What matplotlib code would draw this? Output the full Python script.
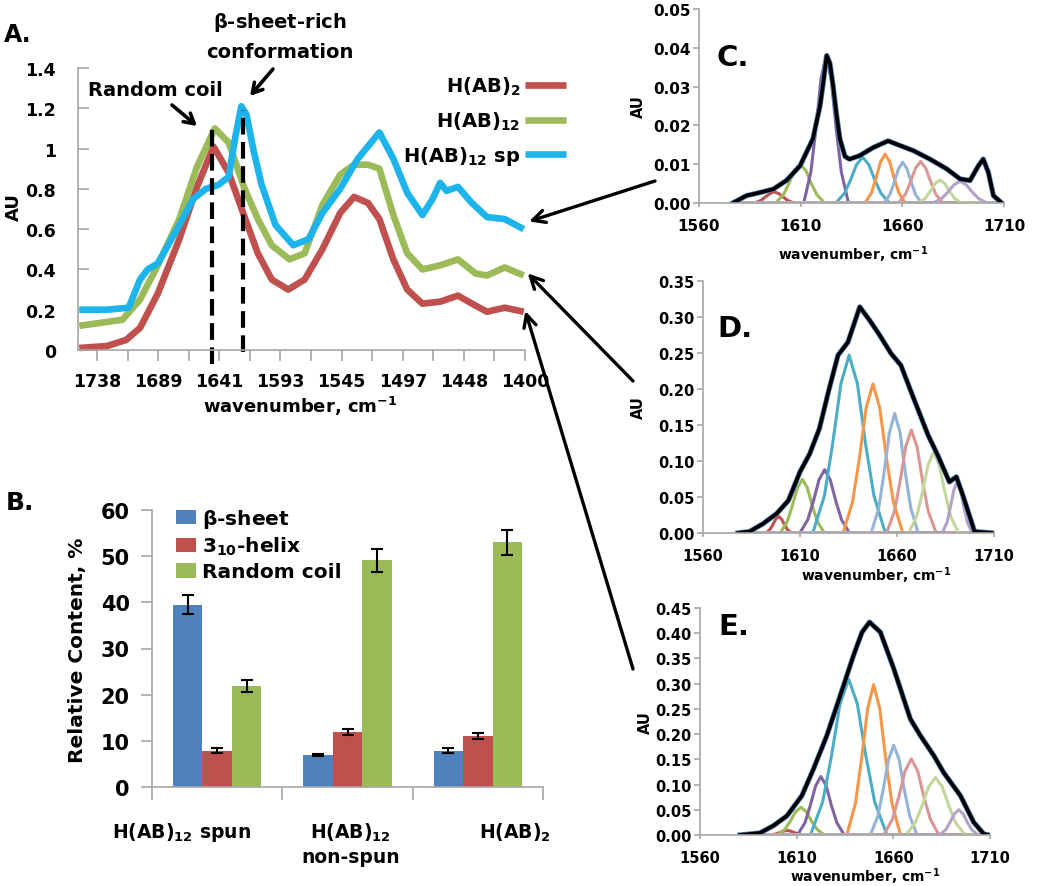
import numpy as np
import matplotlib.pyplot as plt
from matplotlib.ticker import FormatStrFormatter
from matplotlib.transforms import ScaledTranslation

plt.rcParams['font.family'] = 'DejaVu Sans'
plt.rcParams['font.weight'] = 'bold'
plt.rcParams['mathtext.fontset'] = 'dejavusans'

# ---------------- data ----------------
# A. FTIR spectra (wavenumber, AU)
red_wn = [1752, 1730, 1715, 1704, 1690, 1673, 1659, 1646, 1634, 1622, 1611, 1600, 1587, 1574,
          1560, 1546, 1535, 1524, 1515, 1504, 1493, 1481, 1467, 1453, 1439, 1430, 1416, 1401]
red_au = [0.01, 0.02, 0.05, 0.11, 0.28, 0.55, 0.81, 1.01, 0.88, 0.67, 0.48, 0.35, 0.30, 0.35,
          0.50, 0.68, 0.76, 0.73, 0.65, 0.45, 0.30, 0.23, 0.24, 0.27, 0.22, 0.19, 0.21, 0.19]
green_wn = [1752, 1718, 1704, 1690, 1673, 1659, 1645, 1634, 1622, 1611, 1600, 1586, 1574, 1560,
            1546, 1535, 1524, 1515, 1504, 1493, 1481, 1467, 1453, 1439, 1430, 1416, 1401]
green_au = [0.12, 0.15, 0.25, 0.42, 0.65, 0.91, 1.10, 1.03, 0.81, 0.65, 0.52, 0.45, 0.48, 0.72,
            0.87, 0.92, 0.92, 0.90, 0.67, 0.48, 0.40, 0.42, 0.45, 0.38, 0.37, 0.41, 0.37]
blue_wn = [1752, 1730, 1713, 1704, 1698, 1690, 1673, 1662, 1652, 1642, 1634, 1629, 1624, 1620,
           1614, 1608, 1597, 1583, 1571, 1560, 1546, 1532, 1515, 1504, 1493, 1481, 1473, 1467,
           1462, 1453, 1442, 1430, 1416, 1401]
blue_au = [0.20, 0.20, 0.21, 0.35, 0.40, 0.43, 0.62, 0.75, 0.80, 0.82, 0.86, 1.05, 1.21, 1.17,
           0.98, 0.82, 0.62, 0.52, 0.55, 0.68, 0.80, 0.95, 1.08, 0.95, 0.78, 0.67, 0.75, 0.83,
           0.79, 0.81, 0.73, 0.66, 0.65, 0.60]
spectra_labels = [r'H(AB)$_\mathbf{2}$', r'H(AB)$_\mathbf{12}$', r'H(AB)$_\mathbf{12}$ sp']
a_tick_labels = ['1738', '1689', '1641', '1593', '1545', '1497', '1448', '1400']
dash_wn = [1647, 1623]
dash_top = [1.12, 1.19]
dash_bottom = [-0.07, -0.01]

# B. secondary structure content, %
groups = [r'H(AB)$_\mathbf{12}$ spun', 'H(AB)$_\\mathbf{12}$\nnon-spun', r'H(AB)$_\mathbf{2}$']
struct_labels = [r'$\mathbf{\beta}$-sheet', r'3$_\mathbf{10}$-helix', 'Random coil']
beta_sheet = [39.5, 7.0, 7.9]
helix_310 = [7.9, 11.9, 11.0]
random_coil = [21.8, 49.1, 53.0]
beta_err = [2.1, 0.25, 0.5]
helix_err = [0.5, 0.7, 0.7]
coil_err = [1.3, 2.5, 2.7]

# C-E. amide I band fitting: measured spectrum and fitted bands
c_wn = [1576.6, 1583.4, 1590, 1596.6, 1603, 1609.7, 1616, 1619.5, 1621.1, 1622.8, 1624.4, 1626,
        1627.7, 1629.3, 1631.8, 1634, 1639, 1645.7, 1653, 1658.9, 1665.4, 1673.6, 1681.8,
        1688.4, 1693.3, 1697.4, 1699.8, 1702.3, 1704.8, 1708.9]
c_au = [0, 0.0019, 0.0027, 0.0036, 0.0058, 0.0096, 0.0165, 0.025, 0.031, 0.038, 0.036, 0.030,
        0.0225, 0.0165, 0.012, 0.0113, 0.0122, 0.0143, 0.016, 0.0148, 0.0135, 0.0113, 0.0088,
        0.0062, 0.0058, 0.0096, 0.0113, 0.0079, 0.0019, 0]
c_bands = [
    ([1587.1, 1590.3, 1592.5, 1594.8, 1597.0, 1599.3, 1601.5, 1603.8, 1606.9],
     [0, .0006, .0015, .0024, .0029, .0024, .0015, .0006, 0]),
    ([1597.6, 1601.5, 1604.2, 1607.0, 1609.7, 1612.5, 1615.2, 1618.0, 1621.8],
     [0, .0021, .005, .0084, .010, .0084, .005, .0021, 0]),
    ([1611.5, 1615.0, 1617.5, 1620.0, 1622.5, 1625.0, 1627.5, 1630.0, 1633.5],
     [0, .008, .019, .032, .038, .032, .019, .008, 0]),
    ([1627.3, 1631.5, 1634.5, 1637.5, 1640.5, 1643.5, 1646.5, 1649.5, 1653.7],
     [0, .0025, .0059, .0099, .0118, .0099, .0059, .0025, 0]),
    ([1641.6, 1644.8, 1647.0, 1649.3, 1651.5, 1653.8, 1656.0, 1658.3, 1661.4],
     [0, .0026, .0063, .0106, .0126, .0106, .0063, .0026, 0]),
    ([1651.0, 1653.9, 1656.0, 1658.1, 1660.2, 1662.3, 1664.4, 1666.5, 1669.4],
     [0, .0022, .0053, .0088, .0105, .0088, .0053, .0022, 0]),
    ([1658.0, 1661.5, 1664.0, 1666.5, 1669.0, 1671.5, 1674.0, 1676.5, 1680.0],
     [0, .0022, .0054, .009, .0107, .009, .0054, .0022, 0]),
    ([1667.9, 1671.3, 1673.7, 1676.1, 1678.5, 1680.9, 1683.3, 1685.7, 1689.1],
     [0, .0012, .003, .005, .0059, .005, .003, .0012, 0]),
    ([1675.2, 1679.4, 1682.4, 1685.4, 1688.4, 1691.4, 1694.4, 1697.4, 1701.6],
     [0, .0012, .0028, .0047, .0056, .0047, .0028, .0012, 0]),
]

d_wn = [1578, 1584, 1591, 1598, 1604, 1610, 1615, 1620, 1625, 1629.6, 1634.7, 1640.8, 1646,
        1651, 1657, 1662, 1668, 1676, 1681, 1687, 1690.6, 1694, 1700, 1709.5]
d_au = [0, 0.002, 0.013, 0.027, 0.045, 0.085, 0.11, 0.145, 0.20, 0.247, 0.265, 0.314, 0.295,
        0.275, 0.249, 0.233, 0.191, 0.136, 0.108, 0.071, 0.078, 0.052, 0.002, 0]
d_bands = [
    ([1592.4, 1594.5, 1596.0, 1597.5, 1599.0, 1600.5, 1602.0, 1603.5, 1605.6],
     [0, .0048, .0115, .0193, .023, .0193, .0115, .0048, 0]),
    ([1599.8, 1603.4, 1606.0, 1608.6, 1611.2, 1613.8, 1616.4, 1619.0, 1622.6],
     [0, .0156, .0373, .0626, .0745, .0626, .0373, .0156, 0]),
    ([1609.9, 1614.0, 1616.9, 1619.8, 1622.7, 1625.6, 1628.5, 1631.4, 1635.5],
     [0, .0185, .044, .0739, .088, .0739, .044, .0185, 0]),
    ([1616.6, 1622.6, 1626.8, 1631.1, 1635.3, 1639.6, 1643.8, 1648.1, 1654.0],
     [0, .0519, .1235, .2075, .247, .2075, .1235, .0519, 0]),
    ([1632.2, 1637.1, 1640.6, 1644.1, 1647.6, 1651.1, 1654.6, 1658.1, 1663.0],
     [0, .0435, .1035, .1739, .207, .1739, .1035, .0435, 0]),
    ([1646.7, 1650.6, 1653.3, 1656.1, 1658.8, 1661.6, 1664.3, 1667.1, 1670.9],
     [0, .0349, .083, .1394, .166, .1394, .083, .0349, 0]),
    ([1654.6, 1658.7, 1661.6, 1664.5, 1667.4, 1670.3, 1673.2, 1676.1, 1680.2],
     [0, .030, .0715, .1201, .143, .1201, .0715, .030, 0]),
    ([1666.1, 1670.2, 1673.1, 1676.0, 1678.9, 1681.8, 1684.7, 1687.6, 1691.7],
     [0, .0236, .0563, .0945, .1125, .0945, .0563, .0236, 0]),
    ([1683.3, 1685.8, 1687.5, 1689.3, 1691.0, 1692.8, 1694.5, 1696.3, 1698.7],
     [0, .0149, .0355, .0596, .071, .0596, .0355, .0149, 0]),
]

e_wn = [1580.7, 1591, 1598, 1605, 1612.7, 1618.7, 1625.6, 1632.5, 1639.4, 1643.8, 1647.7,
        1653.3, 1660.2, 1668.8, 1674, 1681, 1686, 1694.7, 1701.6, 1706.8, 1709.4]
e_au = [0, 0.004, 0.0185, 0.038, 0.078, 0.131, 0.197, 0.276, 0.356, 0.402, 0.422, 0.402, 0.33,
        0.23, 0.197, 0.157, 0.124, 0.078, 0.025, 0.002, 0]
e_bands = [
    ([1596.2, 1599.0, 1601.0, 1603.0, 1605.0, 1607.0, 1609.0, 1611.0, 1613.8],
     [0, .0019, .0045, .0076, .009, .0076, .0045, .0019, 0]),
    ([1600.1, 1604.0, 1606.7, 1609.5, 1612.2, 1615.0, 1617.7, 1620.5, 1624.3],
     [0, .0116, .0275, .0462, .055, .0462, .0275, .0116, 0]),
    ([1610.4, 1614.3, 1617.0, 1619.8, 1622.5, 1625.3, 1628.0, 1630.8, 1634.6],
     [0, .0244, .058, .0974, .116, .0974, .058, .0244, 0]),
    ([1617.1, 1623.4, 1627.9, 1632.4, 1636.9, 1641.4, 1645.9, 1650.4, 1656.7],
     [0, .0649, .1545, .2596, .309, .2596, .1545, .0649, 0]),
    ([1635.9, 1640.4, 1643.5, 1646.7, 1649.8, 1653.0, 1656.1, 1659.3, 1663.7],
     [0, .0626, .149, .2503, .298, .2503, .149, .0626, 0]),
    ([1648.1, 1652.0, 1654.7, 1657.5, 1660.2, 1663.0, 1665.7, 1668.5, 1672.3],
     [0, .0374, .089, .1495, .178, .1495, .089, .0374, 0]),
    ([1655.0, 1659.6, 1662.8, 1666.1, 1669.3, 1672.6, 1675.8, 1679.1, 1683.6],
     [0, .0317, .0755, .1268, .151, .1268, .0755, .0317, 0]),
    ([1666.4, 1671.3, 1674.8, 1678.3, 1681.8, 1685.3, 1688.8, 1692.3, 1697.2],
     [0, .0239, .057, .0958, .114, .0958, .057, .0239, 0]),
    ([1683.9, 1687.1, 1689.3, 1691.6, 1693.8, 1696.1, 1698.3, 1700.6, 1703.7],
     [0, .0105, .025, .042, .05, .042, .025, .0105, 0]),
]

# ---------------- layout helpers ----------------
W, H = 1050, 887
fig = plt.figure(figsize=(W / 100, H / 100), dpi=100)
GRAY = '#a6a6a6'
RED, GREEN, CYAN, BLUE = '#C0504D', '#9BBB59', '#1DB4EC', '#4F81BD'
band_colors = ['#C0504D', '#9BBB59', '#8064A2', '#4BACC6', '#F79646',
               '#95B3D7', '#D99694', '#C3D69B', '#B3A2C7']


def box(l, t, r, b):
    return [l / W, 1 - b / H, (r - l) / W, (b - t) / H]


def fp(x, y):
    return (x / W, 1 - y / H)


def style(ax):
    for s in ['top', 'right']:
        ax.spines[s].set_visible(False)
    for s in ['left', 'bottom']:
        ax.spines[s].set_color(GRAY)
        ax.spines[s].set_linewidth(1.2)
    ax.tick_params(which='both', colors=GRAY, labelcolor='black', width=1.2)
    ax.patch.set_alpha(0)


def ftext(x, y, s, size, **kw):
    fig.text(*fp(x, y), s, fontsize=size, fontweight='bold', ha=kw.pop('ha', 'center'),
             va=kw.pop('va', 'center'), **kw)


# ---------------- A ----------------
axA = fig.add_axes(box(78, 69, 525, 351))
style(axA)
for wn, au, col, lab in zip([red_wn, green_wn, blue_wn], [red_au, green_au, blue_au],
                            [RED, GREEN, CYAN], spectra_labels):
    axA.plot(wn, au, color=col, lw=4.8, label=lab, clip_on=False,
             solid_joinstyle='round', solid_capstyle='butt')
for x, y0, y1 in zip(dash_wn, dash_bottom, dash_top):
    axA.plot([x, x], [y0, y1], color='black', lw=3, ls=(0, (4, 1.8)), clip_on=False)
axA.set_xlim(1753, 1400)
axA.set_ylim(0, 1.4)
a_ticks = np.linspace(1738, 1400, len(a_tick_labels))
axA.set_xticks(a_ticks)
axA.set_xticklabels(a_tick_labels)
axA.set_xticks((a_ticks[:-1] + a_ticks[1:]) / 2, minor=True)
axA.set_yticks(np.arange(0, 1.41, 0.2))
axA.set_yticklabels(['0', '0.2', '0.4', '0.6', '0.8', '1', '1.2', '1.4'])
axA.tick_params(axis='x', which='both', direction='out', length=8, labelsize=12.5, pad=8)
axA.tick_params(axis='y', direction='in', length=8, labelsize=12.5, pad=16)
axA.legend(loc='upper right', bbox_to_anchor=fp(566, 76), bbox_transform=fig.transFigure,
           frameon=False, markerfirst=False, prop=dict(weight='bold', size=14),
           handlelength=2.1, handletextpad=0.25, labelspacing=0.62, borderpad=0, borderaxespad=0)
arrow_kw = dict(arrowstyle='->,head_length=0.7,head_width=0.4', lw=2.6, color='black',
                shrinkA=0, shrinkB=0)
axA.annotate('', xy=fp(197, 127), xycoords='figure fraction',
             xytext=fp(172, 106), textcoords='figure fraction', arrowprops=arrow_kw)
axA.annotate('', xy=fp(250, 97), xycoords='figure fraction',
             xytext=fp(273, 70), textcoords='figure fraction', arrowprops=arrow_kw)
long_kw = dict(arrowstyle='->,head_length=0.9,head_width=0.45', lw=2.4, color='black',
               shrinkA=0, shrinkB=4)
for wn, au, tail in zip([blue_wn, green_wn, red_wn], [blue_au, green_au, red_au],
                        [(655, 182), (633, 382), (633, 670)]):
    axA.annotate('', xy=(wn[-1], au[-1] + 0.03), xycoords='data',
                 xytext=fp(*tail), textcoords='figure fraction', arrowprops=long_kw,
                 annotation_clip=False)
ftext(155, 90, 'Random coil', 14)
ftext(280, 23, r'$\mathbf{\beta}$-sheet-rich', 14)
ftext(280, 53, 'conformation', 14)
ftext(300, 406, r'wavenumber, cm$^\mathbf{-1}$', 13)
ftext(14, 207, 'AU', 13, rotation=90)
ftext(4, 35, 'A.', 17, ha='left')

# ---------------- B ----------------
axB = fig.add_axes(box(152, 511, 543, 788))
style(axB)
xg = np.arange(len(groups))
bw = 0.226
ekw = dict(ecolor='black', elinewidth=1.5, capsize=4, capthick=1.5)
for off, vals, err, col, lab in zip([-bw, 0, bw], [beta_sheet, helix_310, random_coil],
                                    [beta_err, helix_err, coil_err], [BLUE, RED, GREEN],
                                    struct_labels):
    axB.bar(xg + off, vals, bw, yerr=err, color=col, label=lab, error_kw=ekw)
axB.set_xlim(-0.5, 2.5)
axB.set_ylim(0, 60)
axB.set_yticks(np.arange(0, 61, 10))
axB.tick_params(axis='y', direction='out', length=8, labelsize=15, pad=8)
axB.set_xticks(xg)
axB.set_xticklabels(groups, fontsize=13.5, linespacing=1.3)
axB.set_xticks(np.arange(-0.5, 2.6, 1), minor=True)
axB.tick_params(axis='x', which='major', length=0, pad=24)
axB.tick_params(axis='x', which='minor', direction='out', length=9)
for lab, dx in zip(axB.get_xticklabels(), [-36, 3, 37]):
    lab.set_transform(lab.get_transform() + ScaledTranslation(dx / 100, 0, fig.dpi_scale_trans))
axB.legend(loc='upper left', bbox_to_anchor=fp(176, 508), bbox_transform=fig.transFigure,
           frameon=False, prop=dict(weight='bold', size=14.5), handlelength=1.0,
           handleheight=0.75, handletextpad=0.3, labelspacing=0.25, borderpad=0,
           borderaxespad=0)
ftext(78, 650, 'Relative Content, %', 14.5, rotation=90)
ftext(6, 503, 'B.', 18, ha='left')


# ---------------- C, D, E ----------------
def fit_panel(rect, wn, au, bands, ymax, letter, lpos, ylab, xlab, fs):
    ax = fig.add_axes(box(*rect))
    style(ax)
    for (bx, by), col in zip(bands, band_colors):
        ax.plot([wn[0]] + bx + [wn[-1]], [0] + by + [0], color=col, lw=2.2,
                solid_joinstyle='round')
    ax.plot(wn, au, color=BLUE, lw=3.8, solid_joinstyle='round')
    ax.plot(wn, au, color='black', lw=2.7, solid_joinstyle='round')
    ax.set_xlim(1560, 1710)
    ax.set_ylim(0, ymax)
    ax.set_xticks([1560, 1610, 1660, 1710])
    ax.set_yticks(np.arange(0, ymax + 1e-9, 0.01 if ymax < 0.1 else 0.05))
    ax.yaxis.set_major_formatter(FormatStrFormatter('%.2f'))
    ax.tick_params(axis='y', direction='out', length=4, labelsize=fs, pad=2)
    ax.tick_params(axis='x', direction='out', length=3, labelsize=fs, pad=8)
    ftext(*lpos, letter, 21)
    ftext(*ylab, 'AU', 10.5, rotation=90)
    ftext(*xlab, r'wavenumber, cm$^\mathbf{-1}$', 10)
    return ax


fit_panel((699, 10, 1004, 204), c_wn, c_au, c_bands, 0.05, 'C.', (733, 58), (638, 107),
          (853, 255), 11)
fit_panel((703, 282, 994, 534), d_wn, d_au, d_bands, 0.35, 'D.', (735, 329), (638, 408),
          (876, 576), 10.5)
fit_panel((700, 609, 990, 836), e_wn, e_au, e_bands, 0.45, 'E.', (734, 627), (645, 723),
          (865, 877), 10.5)

fig.savefig('out.png', dpi=100, facecolor='white')
